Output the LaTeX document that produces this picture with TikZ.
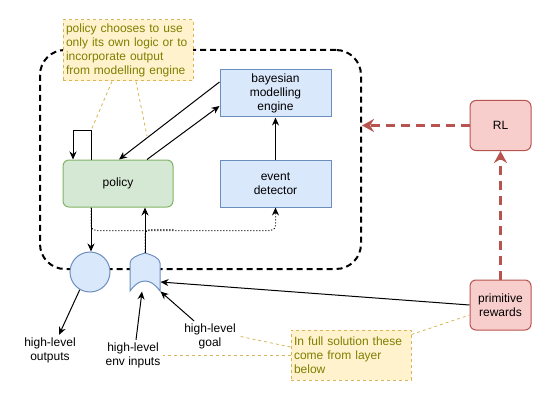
\documentclass[tikz,border=0pt]{standalone}
\usepackage{fontspec}
\setmainfont{Liberation Sans}
\usetikzlibrary{arrows.meta}

\definecolor{bluefill}{HTML}{DAE8FC}
\definecolor{bluedraw}{HTML}{6C8EBF}
\definecolor{greenfill}{HTML}{D5E8D4}
\definecolor{greendraw}{HTML}{82B366}
\definecolor{redfill}{HTML}{F8CECC}
\definecolor{reddraw}{HTML}{B85450}
\definecolor{notefill}{HTML}{FFF2CC}
\definecolor{notedraw}{HTML}{D6B656}
\definecolor{notetext}{HTML}{7F7F00}

\begin{document}
\begin{tikzpicture}[x=1pt,y=-1pt,font=\fontsize{12}{14}\selectfont]
        \tikzstyle{every node}=[inner sep=2pt, align=center, line width=1pt]
        \tikzstyle{bluebox}=[draw=bluedraw, fill=bluefill, minimum width=111, minimum height=47]
        \tikzstyle{redbox}=[draw=reddraw, fill=redfill, rounded corners=6, minimum width=61, minimum height=50]
        \tikzstyle{notebox}=[draw=notedraw, fill=notefill, dashed, text=notetext, align=left, inner sep=3pt]
        \tikzstyle{arr}=[-{Stealth[length=8pt,width=7pt]}, line width=1pt]
        \tikzstyle{notelink}=[draw=notedraw, dashed, line width=0.8pt]
        \tikzstyle{rlarr}=[-{Stealth[length=12pt,width=13pt]}, draw=reddraw, line width=3pt, dash pattern=on 9pt off 6pt]
        \useasboundingbox (0,0) rectangle (551,401);
        \node[draw, dash pattern=on 6pt off 4pt, line width=2pt, rounded corners=25, minimum width=321, minimum height=219] (layer) at (200.5,159.5) {};
        \node[notebox, text width=124, minimum height=61] (note1) at (128,50.5) {policy chooses to use\\only its own logic or to\\incorporate output\\from modelling engine};
        \node[bluebox] (bme) at (275.5,93.5) {bayesian\\modelling\\engine};
        \node[bluebox] (event) at (275.5,183.5) {event\\detector};
        \node[draw=greendraw, fill=greenfill, rounded corners=6, minimum width=110, minimum height=47] (policy) at (118,183.5) {policy};
        \node[redbox] (rl) at (500.5,125.5) {RL};
        \node[redbox] (prim) at (500.5,305) {primitive\\rewards};
        \node[notebox, text width=114, minimum height=50] (note2) at (351,355) {In full solution these\\come from layer\\below};
        \node[circle, draw=bluedraw, fill=bluefill, minimum size=40] (outc) at (90,272) {};
        \node[inner sep=0, minimum width=30, minimum height=38] (gate) at (145,272) {};
        \draw[draw=bluedraw, fill=bluefill, line width=1pt] (130,291) -- (130,263) .. controls (130,258) and (138,255) .. (145,253) .. controls (152,255) and (160,258) .. (160,263) -- (160,291) .. controls (155,284) and (150,281) .. (145,281) .. controls (140,281) and (135,284) .. (130,291) -- cycle;
        \node (outlbl) at (50,350) {high-level\\outputs};
        \node (envlbl) at (133,355) {high-level\\env inputs};
        \node (goallbl) at (210,336) {high-level\\goal};
        \coordinate (loop) at ([xshift=-27pt,yshift=29pt]policy.north);
        \coordinate (edgept) at (147,136);

        \draw[arr] ([xshift=-27pt]policy.north) -- (loop) -| ([xshift=-45pt]policy.north);
        \draw[arr] ([yshift=11.5pt]bme.west) -- ([xshift=1pt]policy.north);
        \draw[arr] ([xshift=29pt]policy.north) -- ([yshift=-12.5pt]bme.west);
        \draw[arr] (event) -- (bme);
        \draw[arr, dotted, rounded corners=5] ([xshift=-27pt]policy.south) -- ++(0,23) -| (event.south);
        \draw[dotted, line width=1pt, rounded corners=5] (gate.north) -- ++(0,-23) -- ++(30,0);
        \draw[arr] ([xshift=-27pt]policy.south) -- ([xshift=1pt]outc.north);
        \draw[arr] (gate.north) -- (gate.north |- policy.south);
        \draw[arr] (outc.240) -- ([xshift=9pt]outlbl.north);
        \draw[arr] ([xshift=3pt]envlbl.north) -- ([xshift=-3pt]gate.south);
        \draw[arr] ([xshift=-16pt]goallbl.north) -- (gate.south east);
        \draw[arr] (prim.west) -- ([yshift=-10pt]gate.east);
        \draw[rlarr] (rl.west) -- (rl.west -| layer.east);
        \draw[rlarr] (prim.north) -- (rl.south);

        \draw[notelink] ([xshift=-16pt]note1.south) -- (loop);
        \draw[notelink] ([xshift=8pt]note1.south) -- (edgept);
        \draw[notelink] ([yshift=-5pt]note2.north east) -- ([yshift=-10pt]prim.west);
        \draw[notelink] ([yshift=8pt]note2.west) -- (goallbl.east);
        \draw[notelink] (note2.west) -- (envlbl.east);
    \end{tikzpicture}
\end{document}
